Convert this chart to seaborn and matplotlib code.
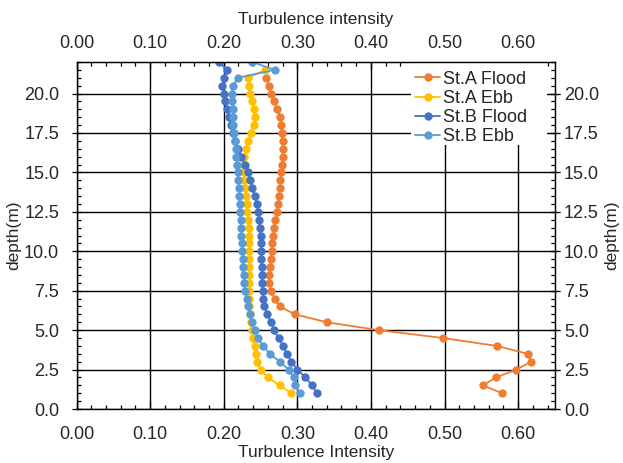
import numpy as np
import pandas as pd
import matplotlib
matplotlib.use("Agg")
import matplotlib.pyplot as plt
import seaborn as sns
from matplotlib.ticker import FixedLocator, FormatStrFormatter
from matplotlib.patches import Rectangle

# depths (m), 0.5 m bins from bottom
depth_A_flood = [1.0, 1.5, 2.0, 2.5, 3.0, 3.5, 4.0, 4.5, 5.0, 5.5, 6.0, 6.5, 7.0, 7.5, 8.0, 8.5, 9.0, 9.5,
                 10.0, 10.5, 11.0, 11.5, 12.0, 12.5, 13.0, 13.5, 14.0, 14.5, 15.0, 15.5, 16.0, 16.5, 17.0,
                 17.5, 18.0, 18.5, 19.0, 19.5, 20.0, 20.5, 21.0]
ti_A_flood = [0.578, 0.552, 0.570, 0.597, 0.618, 0.613, 0.571, 0.498, 0.411, 0.340, 0.297, 0.276, 0.269,
              0.264, 0.262, 0.262, 0.263, 0.264, 0.265, 0.266, 0.267, 0.268, 0.270, 0.272, 0.274, 0.275,
              0.276, 0.277, 0.278, 0.279, 0.280, 0.280, 0.280, 0.279, 0.278, 0.276, 0.273, 0.268, 0.264,
              0.261, 0.258]

depth_A_ebb = [1.0, 1.5, 2.0, 2.5, 3.0, 3.5, 4.0, 4.5, 5.0, 5.5, 6.0, 6.5, 7.0, 7.5, 8.0, 8.5, 9.0, 9.5,
               10.0, 10.5, 11.0, 11.5, 12.0, 12.5, 13.0, 13.5, 14.0, 14.5, 15.0, 15.5, 16.0, 16.5, 17.0,
               17.5, 18.0, 18.5, 19.0, 19.5, 20.0, 20.5, 21.0, 21.5]
ti_A_ebb = [0.292, 0.276, 0.260, 0.250, 0.245, 0.244, 0.242, 0.240, 0.238, 0.237, 0.236, 0.235, 0.235,
            0.235, 0.235, 0.235, 0.235, 0.235, 0.235, 0.235, 0.234, 0.234, 0.233, 0.232, 0.231, 0.230,
            0.229, 0.228, 0.227, 0.227, 0.228, 0.230, 0.233, 0.237, 0.241, 0.243, 0.241, 0.238, 0.236,
            0.234, 0.233, 0.256]

depth_B_flood = [1.0, 1.5, 2.0, 2.5, 3.0, 3.5, 4.0, 4.5, 5.0, 5.5, 6.0, 6.5, 7.0, 7.5, 8.0, 8.5, 9.0, 9.5,
                 10.0, 10.5, 11.0, 11.5, 12.0, 12.5, 13.0, 13.5, 14.0, 14.5, 15.0, 15.5, 16.0, 16.5, 17.0,
                 17.5, 18.0, 18.5, 19.0, 19.5, 20.0, 20.5, 21.0, 21.5, 22.0]
ti_B_flood = [0.327, 0.320, 0.311, 0.300, 0.292, 0.286, 0.280, 0.275, 0.268, 0.264, 0.259, 0.255, 0.253,
              0.253, 0.252, 0.252, 0.252, 0.251, 0.251, 0.251, 0.250, 0.249, 0.248, 0.247, 0.245, 0.242,
              0.239, 0.236, 0.233, 0.229, 0.224, 0.219, 0.215, 0.212, 0.210, 0.207, 0.205, 0.202, 0.200,
              0.198, 0.201, 0.204, 0.194]

depth_B_ebb = [1.0, 1.5, 2.0, 2.5, 3.0, 3.5, 4.0, 4.5, 5.0, 5.5, 6.0, 6.5, 7.0, 7.5, 8.0, 8.5, 9.0, 9.5,
               10.0, 10.5, 11.0, 11.5, 12.0, 12.5, 13.0, 13.5, 14.0, 14.5, 15.0, 15.5, 16.0, 16.5, 17.0,
               17.5, 18.0, 18.5, 19.0, 19.5, 20.0, 20.5, 21.0, 21.5, 22.0]
ti_B_ebb = [0.304, 0.297, 0.295, 0.288, 0.276, 0.263, 0.253, 0.246, 0.242, 0.238, 0.236, 0.233, 0.231,
            0.229, 0.228, 0.227, 0.226, 0.226, 0.225, 0.225, 0.224, 0.224, 0.223, 0.222, 0.222, 0.221,
            0.221, 0.220, 0.219, 0.218, 0.217, 0.216, 0.215, 0.214, 0.213, 0.213, 0.212, 0.211, 0.211,
            0.213, 0.219, 0.269, 0.239]

series_names = ["St.A Flood", "St.A Ebb", "St.B Flood", "St.B Ebb"]
colors = ["#ED7D31", "#FFC000", "#4472C4", "#5B9BD5"]

x_major = [0.0, 0.1, 0.2, 0.3, 0.4, 0.5, 0.6]
y_major = [0.0, 2.5, 5.0, 7.5, 10.0, 12.5, 15.0, 17.5, 20.0]

frames = []
for name, d, t in zip(series_names,
                      [depth_A_flood, depth_A_ebb, depth_B_flood, depth_B_ebb],
                      [ti_A_flood, ti_A_ebb, ti_B_flood, ti_B_ebb]):
    frames.append(pd.DataFrame({"depth": d, "ti": t, "series": name}))
df = pd.concat(frames, ignore_index=True)

sns.set_style("white")
plt.rcParams["font.family"] = ["Liberation Sans", "DejaVu Sans"]

TICK_FS = 13
LAB_FS = 12.5

x_minor = list(np.round(np.arange(0.0, 0.6501, 0.02), 2))
y_minor = list(np.round(np.arange(0.0, 22.001, 0.5), 1))

fig = plt.figure(figsize=(6.23, 4.63), dpi=100)
ax = fig.add_axes([0.1228, 0.1166, 0.7680, 0.7495])

sns.lineplot(data=df, x="ti", y="depth", hue="series", hue_order=series_names,
             palette=colors, sort=False, estimator=None, orient="y",
             marker="o", markersize=6, markeredgewidth=0, linewidth=1.3, ax=ax)

ax.set_xlim(0, 0.65)
ax.set_ylim(0, 22)

ax.xaxis.set_major_locator(FixedLocator(x_major))
ax.xaxis.set_minor_locator(FixedLocator(x_minor))
ax.yaxis.set_major_locator(FixedLocator(y_major))
ax.yaxis.set_minor_locator(FixedLocator(y_minor))
ax.xaxis.set_major_formatter(FormatStrFormatter("%.2f"))
ax.yaxis.set_major_formatter(FormatStrFormatter("%.1f"))

ax.grid(True, which="major", color="black", linewidth=1.0)
ax.set_axisbelow(True)
for s in ax.spines.values():
    s.set_color("black")
    s.set_linewidth(1.0)

ax.tick_params(which="both", direction="in", top=True, right=True, bottom=True, left=True,
               labelsize=TICK_FS, color="black", width=0.9)
ax.tick_params(which="major", length=5)
ax.tick_params(which="minor", length=3)
ax.tick_params(axis="y", which="major", direction="inout", length=7)
ax.tick_params(axis="x", which="major", pad=12)
ax.tick_params(axis="y", which="major", pad=9)
ax.tick_params(labeltop=False, labelright=False)

ax.set_xlabel("Turbulence Intensity", fontsize=LAB_FS, labelpad=2)
ax.set_ylabel("depth(m)", fontsize=LAB_FS, labelpad=2)

secx = ax.secondary_xaxis("top")
secx.xaxis.set_major_locator(FixedLocator(x_major))
secx.xaxis.set_minor_locator(FixedLocator(x_minor))
secx.xaxis.set_major_formatter(FormatStrFormatter("%.2f"))
secx.tick_params(which="both", direction="in", labelsize=TICK_FS)
secx.tick_params(which="major", length=5, pad=7)
secx.tick_params(which="minor", length=3)
secx.set_xlabel("Turbulence intensity", fontsize=LAB_FS, labelpad=8)

secy = ax.secondary_yaxis("right")
secy.yaxis.set_major_locator(FixedLocator(y_major))
secy.yaxis.set_minor_locator(FixedLocator(y_minor))
secy.yaxis.set_major_formatter(FormatStrFormatter("%.1f"))
secy.tick_params(which="both", direction="in", labelsize=TICK_FS)
secy.tick_params(which="major", direction="inout", length=7, pad=3)
secy.tick_params(which="minor", length=3)
secy.set_ylabel("depth(m)", fontsize=LAB_FS, labelpad=4)

# white background box behind the legend (as in the reference)
ax.add_patch(Rectangle((0.700, 0.76), 0.283, 0.24, transform=ax.transAxes,
                       facecolor="white", edgecolor="none", zorder=1.5))

leg = ax.legend(loc="upper left", bbox_to_anchor=(0.700, 0.985), frameon=False,
                fontsize=13, handlelength=1.4, handletextpad=0.15, labelspacing=0.12,
                borderaxespad=0.0, borderpad=0.2)

fig.savefig("out.png", dpi=100)
